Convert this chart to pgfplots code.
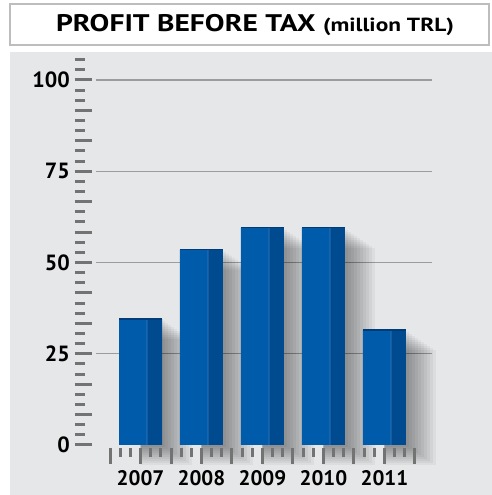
\documentclass[border=0pt]{standalone}
\usepackage{fontspec}
\setmainfont{PT Sans}
\usepackage{pgfplots}
\pgfplotsset{compat=1.18}
\usepackage{pgfplotstable}

\definecolor{panel}{HTML}{E6E7E9}
\definecolor{frontblue}{HTML}{005BAA}
\definecolor{sideblue}{HTML}{004A8F}
\definecolor{edgeblue}{HTML}{3E7DC0}
\definecolor{capblue}{HTML}{003D78}
\definecolor{rulergray}{HTML}{737373}
\definecolor{gridgray}{HTML}{9C9C9C}
\definecolor{boxline}{HTML}{BDBDBD}

% profit before tax, million TRL
\pgfplotstableread{
x value
0 34.5
1 53.5
2 59.5
3 59.5
4 31.5
}\profit

\pgfplotsset{
  shadowlayer/.style n args={3}{ybar, draw=none, fill=black, opacity=0.045,
    bar width=#1pt, bar shift=#2pt, yshift=#3pt, forget plot},
}

\begin{document}
\begin{tikzpicture}
\path[use as bounding box] (0pt,0pt) rectangle (492pt,495pt);
\fill[panel] (10pt,0pt) rectangle (492pt,443pt);
\draw[boxline, line width=2pt, fill=white] (10pt,450pt) rectangle (489pt,491pt);
\node[inner sep=0pt] at (255pt,470pt) {\scalebox{1.23}[1]{\fontsize{24}{24}\selectfont\bfseries PROFIT BEFORE TAX \fontsize{19}{19}\selectfont(million TRL)}};

\begin{axis}[
  at={(96pt,50pt)}, anchor=south west,
  scale only axis, width=336pt, height=365pt,
  xmin=-0.73, xmax=4.78, ymin=0, ymax=100,
  clip=false,
  axis line style={draw=none},
  ytick={25,50,75,100},
  extra y ticks={0}, extra y tick style={grid=none},
  ymajorgrids, grid style={gridgray, line width=1.3pt},
  major tick length=0pt,
  xtick={0,1,2,3,4},
  xticklabels={2007,2008,2009,2010,2011},
  /pgf/number format/assume math mode=true,
  yticklabel style={font=\fontsize{22}{22}\selectfont\bfseries, anchor=east, inner sep=0pt, xshift=-26pt},
  xticklabel style={font=\fontsize{21}{21}\selectfont\bfseries, anchor=north, inner sep=0pt, yshift=-25pt},
]
% soft drop shadow to the right of each bar
\addplot[shadowlayer={24.5}{12.25}{-2}] table[x=x, y=value] {\profit};
\addplot[shadowlayer={27.5}{13.75}{-4}] table[x=x, y=value] {\profit};
\addplot[shadowlayer={30.5}{15.25}{-6}] table[x=x, y=value] {\profit};
\addplot[shadowlayer={33.5}{16.75}{-8}] table[x=x, y=value] {\profit};
\addplot[shadowlayer={36.5}{18.25}{-10}] table[x=x, y=value] {\profit};
\addplot[shadowlayer={39.5}{19.75}{-12}] table[x=x, y=value] {\profit};
\addplot[shadowlayer={42.5}{21.25}{-14}] table[x=x, y=value] {\profit};
\addplot[shadowlayer={45.5}{22.75}{-16}] table[x=x, y=value] {\profit};
\addplot[shadowlayer={48.5}{24.25}{-18}] table[x=x, y=value] {\profit};
\addplot[shadowlayer={51.5}{25.75}{-20}] table[x=x, y=value] {\profit};

% ruler along the value axis
\pgfplotsinvokeforeach{0,...,38}{
  \draw[rulergray, line width=3pt] ([xshift=-21pt]axis cs:-0.73,{#1*25/9}) -- ++(10pt,0pt);
}
\pgfplotsinvokeforeach{0,...,12}{
  \draw[rulergray, line width=3pt] ([xshift=-21pt]axis cs:-0.73,{#1*25/3}) -- ++(17pt,0pt);
}
% ruler along the category axis
\pgfplotsinvokeforeach{0,...,30}{
  \draw[rulergray, line width=3pt] ([yshift=-3pt]axis cs:{-0.5+#1/6},0) -- ++(0pt,-9pt);
}
\pgfplotsinvokeforeach{0,...,10}{
  \draw[rulergray, line width=3pt] ([yshift=-3pt]axis cs:{-0.5+#1/2},0) -- ++(0pt,-16pt);
}

% bars: front face, darker side face, light edge and top rim
\addplot[ybar, draw=none, fill=frontblue, bar width=28pt, bar shift=-7.5pt] table[x=x, y=value] {\profit};
\addplot[ybar, draw=none, fill=sideblue, bar width=15pt, bar shift=14pt] table[x=x, y=value] {\profit};
\addplot[ybar, draw=none, fill=edgeblue, bar width=0.8pt, bar shift=6.5pt] table[x=x, y=value] {\profit};
\addplot[only marks, mark=-, mark size=21.5pt, mark options={draw=capblue, line width=1.2pt}] table[x=x, y=value] {\profit};
\end{axis}
\end{tikzpicture}
\end{document}
